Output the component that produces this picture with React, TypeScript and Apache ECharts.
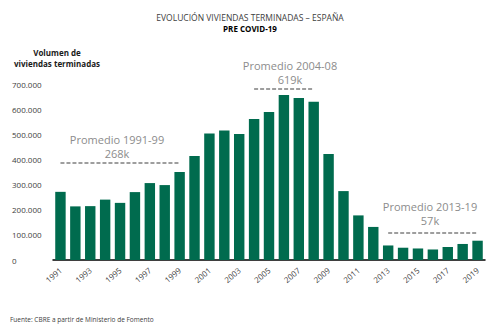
import React, { useEffect, useRef } from "react";
import * as echarts from "echarts";

const years = [
  "1991","1992","1993","1994","1995","1996","1997","1998","1999","2000",
  "2001","2002","2003","2004","2005","2006","2007","2008","2009","2010",
  "2011","2012","2013","2014","2015","2016","2017","2018","2019",
];
const viviendas = [
  272000, 214000, 215000, 241000, 228000, 271000, 307000, 299000, 351000, 415000,
  505000, 517000, 503000, 563000, 591000, 658000, 647000, 632000, 423000, 275000,
  178000, 132000, 58000, 49000, 46000, 42000, 52000, 64000, 77000,
];
const yTicks = [0, 100000, 200000, 300000, 400000, 500000, 600000, 700000];

// annotation lines: [startYear, endYear, level]
const avgLines: [string, string, number][] = [
  ["1991", "1999", 389000],
  ["2004", "2008", 682000],
  ["2013", "2019", 110000],
];
const avgTexts = [
  { title: "Promedio 1991-99", value: "268k" },
  { title: "Promedio 2004-08", value: "619k" },
  { title: "Promedio 2013-19", value: "57k" },
];

const FONT = "'Open Sans', sans-serif";

export default function App() {
  const ref = useRef<HTMLDivElement>(null);
  useEffect(() => {
    if (!ref.current) return;
    const chart = echarts.init(ref.current, undefined, { renderer: "svg" });
    const fmt = (v: number) =>
      v === 0 ? "0" : v.toLocaleString("de-DE").replace(/,/g, ".");
    const annPos = [
      { x: 117, y: 139 },
      { x: 290, y: 65 },
      { x: 430, y: 206 },
    ];
    const graphics: any[] = [];
    avgTexts.forEach((t, i) => {
      graphics.push({
        type: "text",
        x: annPos[i].x,
        y: annPos[i].y - 7,
        style: {
          text: t.title + "\n" + t.value,
          fill: "#8c8c8c",
          font: `11px ${FONT}`,
          textAlign: "center",
          lineHeight: 14,
        },
      });
    });
    graphics.push({
      type: "text",
      x: 57,
      y: 47,
      style: {
        text: "Volumen de\nviviendas terminadas",
        fill: "#1a1a1a",
        font: `bold 8px ${FONT}`,
        textAlign: "center",
        lineHeight: 11,
      },
    });
    graphics.push({
      type: "text",
      x: 10,
      y: 316,
      style: {
        text: "Fuente: CBRE a partir de Ministerio de Fomento",
        fill: "#404040",
        font: `6.5px ${FONT}`,
      },
    });

    chart.setOption({
      animation: false,
      backgroundColor: "#ffffff",
      title: {
        text: "EVOLUCIÓN VIVIENDAS TERMINADAS – ESPAÑA",
        subtext: "PRE COVID-19",
        left: "center",
        top: 8,
        itemGap: 2,
        textStyle: { fontFamily: FONT, fontSize: 8.5, fontWeight: "normal", color: "#404040" },
        subtextStyle: { fontFamily: FONT, fontSize: 8, fontWeight: "bold", color: "#000" },
      },
      grid: { left: 53, right: 15, top: 84.6, bottom: 68, containLabel: false },
      xAxis: {
        type: "category",
        data: years,
        axisLine: { lineStyle: { color: "#000", width: 1.5 } },
        axisTick: { show: false },
        axisLabel: {
          interval: 1,
          rotate: 40,
          fontFamily: FONT,
          fontSize: 8,
          color: "#404040",
          margin: 9,
        },
      },
      yAxis: {
        type: "value",
        min: 0,
        max: 700000,
        interval: 100000,
        splitLine: { show: false },
        axisLine: { show: false },
        axisTick: { show: false },
        axisLabel: {
          formatter: (v: number) => (yTicks.includes(v) ? fmt(v) : ""),
          fontFamily: FONT,
          fontSize: 8,
          color: "#404040",
          align: "left",
          margin: 41,
        },
      },
      series: [
        {
          type: "bar",
          data: viviendas,
          barCategoryGap: "30%",
          itemStyle: { color: "#006b4e" },
          markLine: {
            symbol: "none",
            silent: true,
            label: { show: false },
            lineStyle: { color: "#7f7f7f", type: [4, 2], width: 1.5 },
            data: avgLines.map(([a, b, v]) => [
              { coord: [a, v] },
              { coord: [b, v] },
            ]),
          },
        },
      ],
      graphic: graphics,
    });
    return () => chart.dispose();
  }, []);
  return <div ref={ref} style={{ width: 500, height: 328, position: "absolute", left: 0, top: 0 }} />;
}
